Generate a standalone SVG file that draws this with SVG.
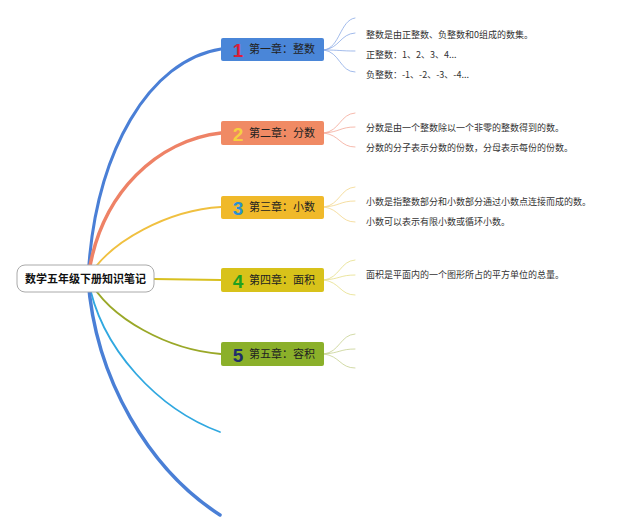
<svg xmlns="http://www.w3.org/2000/svg" width="640" height="531" viewBox="0 0 640 531">
<style>
text{font-family:"Noto Sans CJK SC","Liberation Sans",sans-serif}
.t{font-size:11px;fill:#222}
.s{font-size:9px;fill:#333}
.n{font-size:19px;font-weight:bold;font-family:"Liberation Sans","Noto Sans CJK SC",sans-serif}
.f{fill:none;stroke-width:0.8}
</style>
<rect width="640" height="531" fill="#fff"/>
<g id="connectors" fill="none" stroke-linecap="round">
<path d="M88 278 C95 150 150 60 221 49" stroke="#4a7fd6" stroke-width="3"/>
<path d="M88 278 C100 190 160 140 221 133" stroke="#ee8266" stroke-width="3.5"/>
<path d="M88 278 C110 240 170 210 221 207" stroke="#f0c040" stroke-width="1.8"/>
<path d="M154 279 L221 280" stroke="#d8c020" stroke-width="2"/>
<path d="M88 278 C110 320 170 350 221 354" stroke="#9aa828" stroke-width="1.8"/>
<path d="M88 278 C100 350 160 410 220 432" stroke="#30a8e0" stroke-width="1.8"/>
<path d="M88 278 C95 380 150 470 220 515" stroke="#4a7fd6" stroke-width="3.5"/>
<g class="f" stroke="#8aaae6"><path d="M324 50 C340 48 340 20 355 18"/><path d="M324 50 C340 48 340 34 355 33"/><path d="M324 50 C340 50 340 51 355 51"/><path d="M324 50 C340 52 340 72 355 72"/></g>
<g class="f" stroke="#f4a898"><path d="M324 133 C340 131 340 114 355 113"/><path d="M324 133 C340 132 340 127 355 127"/><path d="M324 133 C340 135 340 147 355 147"/></g>
<g class="f" stroke="#f2d68a"><path d="M324 207 C340 205 340 188 355 187"/><path d="M324 207 C340 206 340 201 355 201"/><path d="M324 207 C340 209 340 222 355 222"/></g>
<g class="f" stroke="#e6de88"><path d="M324 280 C340 278 340 261 355 260"/><path d="M324 280 C340 279 340 275 355 275"/><path d="M324 280 C340 282 340 295 355 295"/></g>
<g class="f" stroke="#c6d090"><path d="M324 354 C340 352 340 335 355 334"/><path d="M324 354 C340 353 340 349 355 349"/><path d="M324 354 C340 356 340 368 355 368"/></g>
</g>
<g id="root"><rect x="17" y="265" width="137" height="27" rx="8" fill="#fff" stroke="#aaa"/><text x="85.5" y="283" text-anchor="middle" style="font-size:11px;font-weight:bold;fill:#111">数学五年级下册知识笔记</text></g>
<g id="c1"><rect x="221" y="38" width="103" height="23" rx="2" fill="#4a86d8"/><text x="238" y="57" class="n" fill="#d8203a" text-anchor="middle">1</text><text x="249" y="53" class="t">第一章：整数</text></g>
<g id="c2"><rect x="221" y="121" width="103" height="24" rx="2" fill="#f08a64"/><text x="238" y="141" class="n" fill="#f6d040" text-anchor="middle">2</text><text x="249" y="137" class="t">第二章：分数</text></g>
<g id="c3"><rect x="221" y="196" width="103" height="23" rx="2" fill="#f0b92a"/><text x="238" y="215" class="n" fill="#2a90d0" text-anchor="middle">3</text><text x="249" y="211" class="t">第三章：小数</text></g>
<g id="c4"><rect x="221" y="268" width="103" height="24" rx="2" fill="#d8c21a"/><text x="238" y="288" class="n" fill="#20a020" text-anchor="middle">4</text><text x="249" y="284" class="t">第四章：面积</text></g>
<g id="c5"><rect x="221" y="342" width="103" height="24" rx="2" fill="#8bb02a"/><text x="238" y="362" class="n" fill="#1e2e6a" text-anchor="middle">5</text><text x="249" y="358" class="t">第五章：容积</text></g>
<g id="notes">
<text x="366" y="38" class="s">整数是由正整数、负整数和0组成的数集。</text>
<text x="366" y="58" class="s">正整数：1、2、3、4...</text>
<text x="366" y="78" class="s">负整数：-1、-2、-3、-4...</text>
<text x="366" y="131" class="s">分数是由一个整数除以一个非零的整数得到的数。</text>
<text x="366" y="151" class="s">分数的分子表示分数的份数，分母表示每份的份数。</text>
<text x="366" y="205" class="s">小数是指整数部分和小数部分通过小数点连接而成的数。</text>
<text x="366" y="225" class="s">小数可以表示有限小数或循环小数。</text>
<text x="366" y="278" class="s">面积是平面内的一个图形所占的平方单位的总量。</text>
</g>
</svg>
